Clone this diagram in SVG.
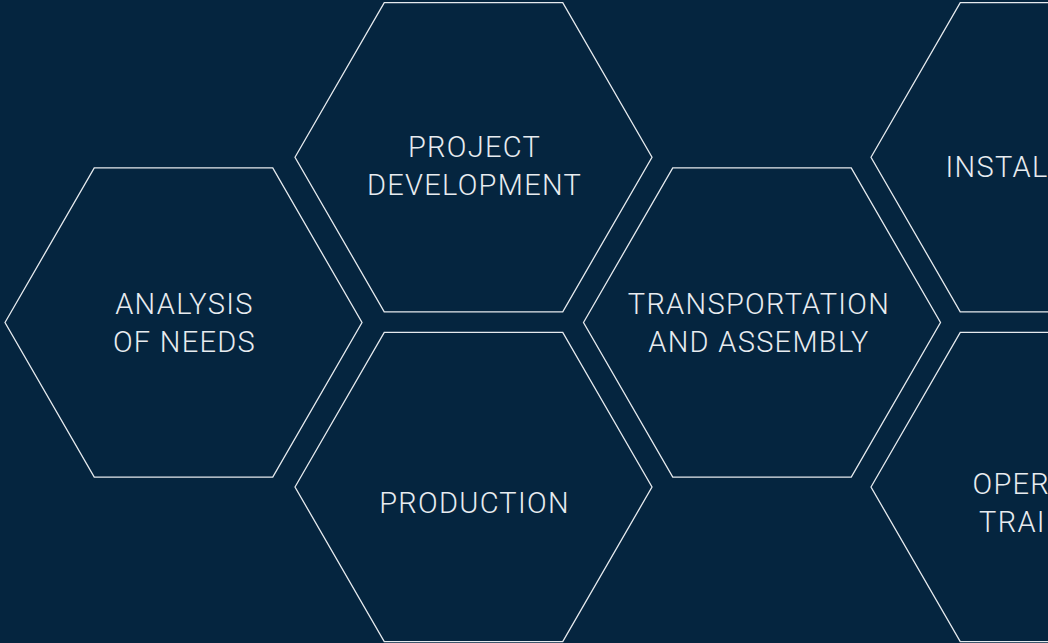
<svg xmlns="http://www.w3.org/2000/svg" width="1048" height="643" viewBox="0 0 1048 643">
  <style>
    .bg { fill: #05253f; }
    .hex { fill: none; stroke: #e6eaee; stroke-width: 1.3; }
    .lbl { fill: #e8ecf0; font-family: Roboto, "Liberation Sans", sans-serif; font-weight: 300; font-size: 29px; letter-spacing: 1.3px; text-anchor: middle; }
  </style>
  <defs>
    <polygon id="hexshape" points="-178.5,0 -89.25,-154.6 89.25,-154.6 178.5,0 89.25,154.6 -89.25,154.6"/>
  </defs>
  <rect class="bg" x="0" y="0" width="1048" height="643"/>
  <g id="connectors"/>
  <g id="analysis">
    <use href="#hexshape" class="hex" transform="translate(183.5,322.5)"/>
    <text class="lbl" x="184.5" y="314">ANALYSIS</text>
    <text class="lbl" x="184.5" y="352">OF NEEDS</text>
  </g>
  <g id="project-development">
    <use href="#hexshape" class="hex" transform="translate(473.5,157.2)"/>
    <text class="lbl" x="474.5" y="157">PROJECT</text>
    <text class="lbl" x="474.5" y="195">DEVELOPMENT</text>
  </g>
  <g id="production">
    <use href="#hexshape" class="hex" transform="translate(473.5,487)"/>
    <text class="lbl" x="474.5" y="513">PRODUCTION</text>
  </g>
  <g id="transportation">
    <use href="#hexshape" class="hex" transform="translate(762,322.5)"/>
    <text class="lbl" x="759" y="314">TRANSPORTATION</text>
    <text class="lbl" x="759" y="352">AND ASSEMBLY</text>
  </g>
  <g id="installation">
    <use href="#hexshape" class="hex" transform="translate(1049.5,157.2)"/>
    <text class="lbl" x="1049.5" y="177">INSTALLATION</text>
  </g>
  <g id="operator-training">
    <use href="#hexshape" class="hex" transform="translate(1049.5,487)"/>
    <text class="lbl" x="1049.5" y="494">OPERATOR</text>
    <text class="lbl" x="1049.5" y="532">TRAINING</text>
  </g>
</svg>
